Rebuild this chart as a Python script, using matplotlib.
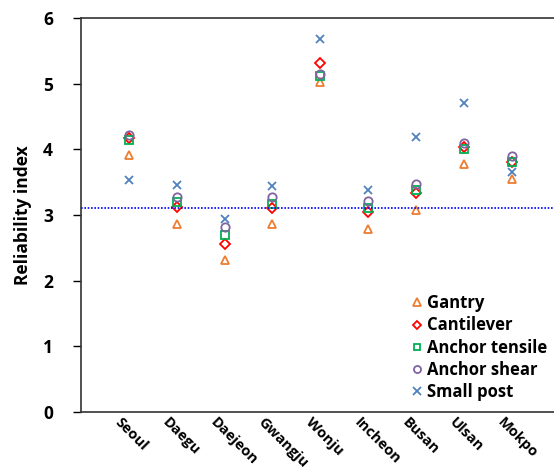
import matplotlib.pyplot as plt
import matplotlib.transforms as mtransforms
import numpy as np

# Cities along the x axis
cities = ["Seoul", "Daegu", "Daejeon", "Gwangju", "Wonju",
          "Incheon", "Busan", "Ulsan", "Mokpo"]

# Reliability index per structure type
gantry = [3.92, 2.86, 2.32, 2.86, 5.02, 2.79, 3.07, 3.77, 3.55]
cantilever = [4.17, 3.12, 2.56, 3.11, 5.31, 3.05, 3.34, 4.03, 3.81]
anchor_tensile = [4.14, 3.20, 2.69, 3.17, 5.11, 3.11, 3.38, 4.01, 3.80]
anchor_shear = [4.22, 3.28, 2.81, 3.28, 5.14, 3.22, 3.47, 4.09, 3.90]
small_post = [3.53, 3.46, 2.94, 3.44, 5.68, 3.38, 4.19, 4.71, 3.66]

target = 3.1

plt.rcParams["font.family"] = ["Open Sans", "DejaVu Sans"]

fig = plt.figure(figsize=(5.54, 4.70), dpi=100)
ax = fig.add_axes([0.146, 0.1234, 0.86, 0.8383])

x = np.arange(len(cities))
ms = 6
ax.plot(x, gantry, linestyle="none", marker="^", ms=ms, mfc="none",
        mec="#ED7D31", mew=1.3, label="Gantry")
ax.plot(x, cantilever, linestyle="none", marker="D", ms=ms - 1, mfc="none",
        mec="#FF0000", mew=1.3, label="Cantilever")
ax.plot(x, anchor_tensile, linestyle="none", marker="s", ms=ms - 0.5, mfc="none",
        mec="#00B050", mew=1.3, label="Anchor tensile")
ax.plot(x, anchor_shear, linestyle="none", marker="o", ms=ms, mfc="none",
        mec="#8064A2", mew=1.3, label="Anchor shear")
ax.plot(x, small_post, linestyle="none", marker="x", ms=ms, mfc="none",
        mec="#4F81BD", mew=1.3, label="Small post")

ax.axhline(target, color="#0000FF", linestyle=(0, (1, 1)), linewidth=1.2)

ax.set_xlim(-1, 8.95)
ax.set_ylim(0, 6)
ax.set_yticks(range(0, 7))
ax.set_xticks(x)
ax.set_xticklabels(cities, rotation=-45, ha="left", va="top",
                   rotation_mode="anchor", fontsize=10.5, fontweight="bold")
ax.tick_params(axis="x", length=0, pad=2)
ax.tick_params(axis="y", direction="out", length=6, width=1, labelsize=12.5, pad=14)
for lab in ax.get_yticklabels():
    lab.set_fontweight("bold")
shift = mtransforms.ScaledTranslation(-7 / 100, 0, fig.dpi_scale_trans)
for lab in ax.get_xticklabels():
    lab.set_transform(lab.get_transform() + shift)

ax.set_ylabel("Reliability index", fontsize=12.5, fontweight="bold", labelpad=8)

for side in ["top", "right", "bottom", "left"]:
    ax.spines[side].set_linewidth(1.2)
    ax.spines[side].set_color("#333333")
ax.spines["right"].set_visible(False)

leg = ax.legend(loc="lower right", frameon=False,
                prop={"weight": "bold", "size": 12}, handletextpad=0.1,
                handlelength=1.0, labelspacing=0.25, markerscale=0.85,
                bbox_to_anchor=(1.01, -0.01))

fig.savefig("out.png", dpi=100)
